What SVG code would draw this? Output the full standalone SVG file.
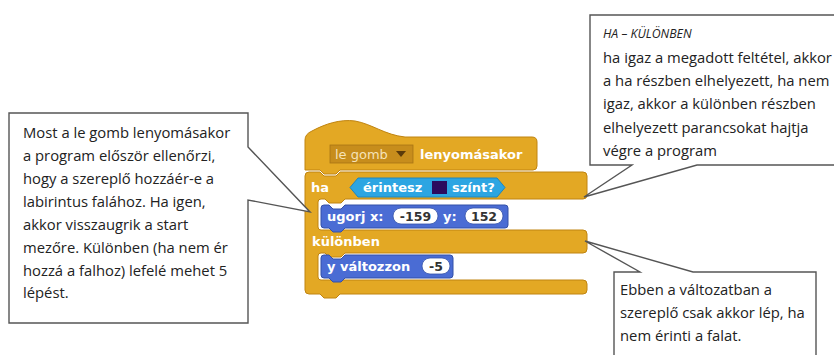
<svg xmlns="http://www.w3.org/2000/svg" width="834" height="355" viewBox="0 0 834 355">
<style>
.note{fill:#fff;stroke:#555;stroke-width:1.4}
.nt{font-family:"Open Sans","Liberation Sans",sans-serif;font-size:14.8px;fill:#222}
.ctl{fill:#E3A824;stroke:#C08410;stroke-width:1}
.mot{fill:#4A6CD4;stroke:#3250A8;stroke-width:1}
.bt{font-family:"DejaVu Sans",sans-serif;font-weight:bold;font-size:13px;fill:#fff}
.inp{fill:#fff;stroke:#3250A8;stroke-width:0.8}
.it{font-family:"DejaVu Sans",sans-serif;font-weight:bold;font-size:12.5px;fill:#333;text-anchor:middle}
</style>
<rect width="834" height="355" fill="#fff"/>

<g id="script">
  <g id="hat">
    <path class="ctl" d="M305,170 L305,140 Q305,134 312,131 C325,124 340,119 355,121 C372,124 385,135 405,137 L532,137 Q537,137 537,142 L537,166 Q537,170 533,170 L340,170 L336,174 L324,174 L320,170 Z"/>
    <rect x="330" y="145" width="83" height="18" fill="#C78D1C" stroke="#A87414" stroke-width="0.8"/>
    <text x="335" y="159" font-family="DejaVu Sans,sans-serif" font-size="13px" fill="#F6E3B8">le gomb</text>
    <path d="M396,151 L406,151 L401,157 Z" fill="#5a3a0a"/>
    <text class="bt" x="420" y="159">lenyomásakor</text>
  </g>
  <g id="ha">
    <path class="ctl" d="M305,176 Q305,172 309,172 L320,172 L324,176 L336,176 L340,172 L583,172 Q587,172 587,176 L587,195 Q587,199 583,199 L345,199 L341,203 L329,203 L325,199 L321,199 Q318,199 318,202 L318,227 Q318,230 321,230 L583,230 Q587,230 587,234 L587,249 Q587,253 583,253 L345,253 L341,257 L329,257 L325,253 L321,253 Q318,253 318,256 L318,277 Q318,280 321,280 L583,280 Q587,280 587,284 L587,290 Q587,294 583,294 L340,294 L336,298 L324,298 L320,294 L309,294 Q305,294 305,290 Z"/>
    <text class="bt" x="311" y="192">ha</text>
    <path d="M350,187.5 L358,178 L497,178 L505,187.5 L497,197 L358,197 Z" fill="#2CA5E2" stroke="#1F86BC" stroke-width="1"/>
    <text class="bt" x="363" y="192">érintesz</text>
    <rect x="432" y="181" width="15" height="13" fill="#2B0B5E"/>
    <text class="bt" x="452" y="192">színt?</text>
    <text class="bt" x="312" y="246">különben</text>
  </g>
  <g id="ugorj">
    <path class="mot" d="M321,208 Q321,205 324,205 L329,205 L333,209 L341,209 L345,205 L505,205 Q508,205 508,208 L508,225 Q508,228 505,228 L345,228 L341,232 L333,232 L329,228 L324,228 Q321,228 321,225 Z"/>
    <text class="bt" x="327" y="221">ugorj x:</text>
    <rect class="inp" x="393" y="208" width="45" height="16" rx="8"/>
    <text class="it" x="415.5" y="221">-159</text>
    <text class="bt" x="443" y="221">y:</text>
    <rect class="inp" x="465" y="208" width="38" height="16" rx="8"/>
    <text class="it" x="484" y="221">152</text>
  </g>
  <g id="valtozzon">
    <path class="mot" d="M321,258 Q321,255 324,255 L329,255 L333,259 L341,259 L345,255 L450,255 Q453,255 453,258 L453,275 Q453,278 450,278 L345,278 L341,282 L333,282 L329,278 L324,278 Q321,278 321,275 Z"/>
    <text class="bt" x="327" y="271">y változzon</text>
    <rect class="inp" x="422" y="258" width="28" height="16" rx="8"/>
    <text class="it" x="436" y="271">-5</text>
  </g>
</g>

<g id="connectors">
  <g id="note-left">
    <path class="note" d="M9,113 L248,113 L248,147 L310,212 L248,200 L248,323 L9,323 Z"/>
    <text class="nt" x="23" y="138">Most a le gomb lenyomásakor</text>
    <text class="nt" x="23" y="161">a program először ellenőrzi,</text>
    <text class="nt" x="23" y="184">hogy a szereplő hozzáér-e a</text>
    <text class="nt" x="23" y="207">labirintus falához. Ha igen,</text>
    <text class="nt" x="23" y="230">akkor visszaugrik a start</text>
    <text class="nt" x="23" y="253">mezőre. Különben (ha nem ér</text>
    <text class="nt" x="23" y="276">hozzá a falhoz) lefelé mehet 5</text>
    <text class="nt" x="23" y="298">lépést.</text>
  </g>
  <g id="note-top-right">
    <path class="note" d="M590,15 L840,15 L840,165 L697,165 L584,197 L632,165 L590,165 Z"/>
    <text x="603" y="38" font-family="Open Sans,Liberation Sans,sans-serif" font-size="12.3px" font-style="italic" fill="#222">HA – KÜLÖNBEN</text>
    <text class="nt" x="603" y="63">ha igaz a megadott feltétel, akkor</text>
    <text class="nt" x="603" y="86">a ha részben elhelyezett, ha nem</text>
    <text class="nt" x="603" y="109">igaz, akkor a különben részben</text>
    <text class="nt" x="603" y="133">elhelyezett parancsokat hajtja</text>
    <text class="nt" x="603" y="156">végre a program</text>
  </g>
  <g id="note-bottom-right">
    <path class="note" d="M614,272 L640,272 L585,241 L693,272 L816,272 L816,362 L614,362 Z"/>
    <text class="nt" x="620" y="295">Ebben a változatban a</text>
    <text class="nt" x="620" y="318">szereplő csak akkor lép, ha</text>
    <text class="nt" x="620" y="341">nem érinti a falat.</text>
  </g>
</g>
</svg>
